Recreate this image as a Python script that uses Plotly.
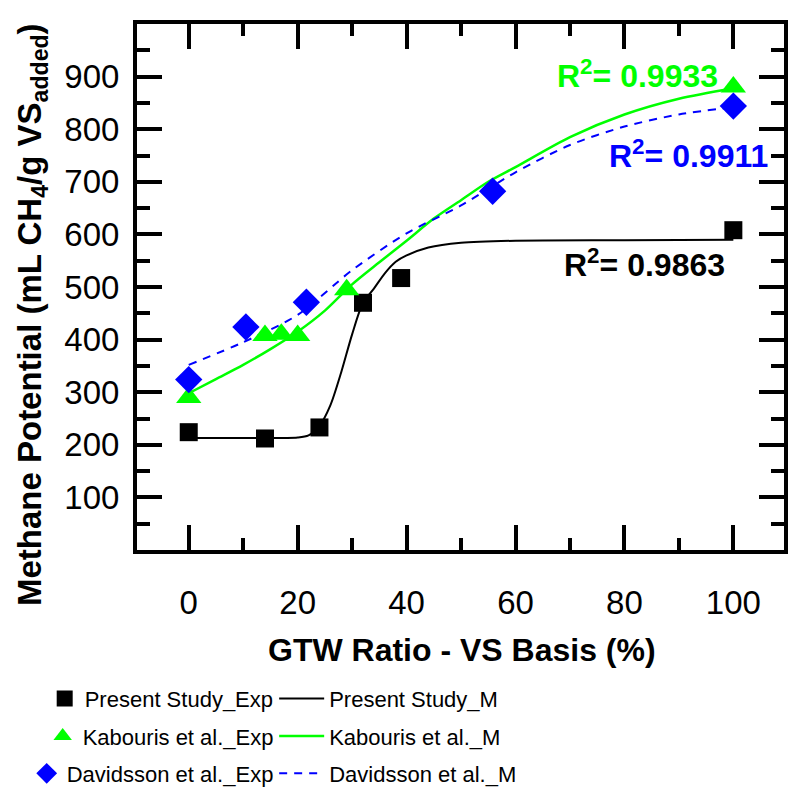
import plotly.graph_objects as go

# ---- data ----
present_x = [0, 14, 24, 32, 39, 100]
present_y = [224, 212, 233, 470, 517, 608]

kab_x = [0, 14, 17, 20, 29, 100]
kab_y = [290, 408, 410, 408, 495, 880]

dav_x = [0, 10.5, 21.6, 55.8, 100]
dav_y = [324, 424, 471, 682, 844]

present_m_x = [0, 10, 20, 22, 24, 26, 28, 30, 32, 34, 36, 38, 40, 44, 50, 60, 80, 100]
present_m_y = [213, 213, 214, 218, 236, 275, 338, 410, 470, 497, 526, 548, 560, 575, 584, 588, 589, 590]

kab_m_x = [0, 5, 10, 15, 20, 25, 30, 35, 40, 45, 50, 55, 60, 70, 80, 90, 100]
kab_m_y = [298, 325, 352, 382, 415, 455, 505, 547, 588, 630, 665, 700, 728, 785, 828, 858, 878]

dav_m_x = [0, 10, 20, 30, 40, 50, 60, 70, 80, 90, 100]
dav_m_y = [352, 395, 447, 532, 602, 655, 718, 770, 805, 828, 842]

x_ticks = [0, 20, 40, 60, 80, 100]
x_minor = [10, 30, 50, 70, 90]
y_ticks = [100, 200, 300, 400, 500, 600, 700, 800, 900]
y_minor = [50, 150, 250, 350, 450, 550, 650, 750, 850, 950]

r2_labels = ["R<sup>2</sup>= 0.9933", "R<sup>2</sup>= 0.9911", "R<sup>2</sup>= 0.9863"]
r2_x = [67.2, 76.8, 68.6]
r2_y = [905, 753, 545]
r2_colors = ["#00ff00", "#0000ff", "#000000"]

GREEN = "#00ff00"
BLUE = "#0000ff"
FONT = "Liberation Sans, Arial, sans-serif"

# legend rows (paper y of each row centre)
row_y = [-0.2827, -0.3539, -0.4250]
LEFT_COL_RIGHT = 0.219
RIGHT_COL_LEFT = 0.212
LEG_FONT = dict(family=FONT, size=22, color="black")

fig = go.Figure()

# model lines
fig.add_trace(go.Scatter(x=present_m_x, y=present_m_y, mode="lines", name="Present Study_M",
                         line=dict(color="black", width=2, shape="spline", smoothing=0.8),
                         legend="legend4", showlegend=True))
fig.add_trace(go.Scatter(x=kab_m_x, y=kab_m_y, mode="lines", name="Kabouris et al._M",
                         line=dict(color=GREEN, width=2.5, shape="spline", smoothing=0.8),
                         legend="legend5", showlegend=True))
fig.add_trace(go.Scatter(x=dav_m_x, y=dav_m_y, mode="lines", name="Davidsson et al._M",
                         line=dict(color=BLUE, width=2, dash="8px,7px", shape="spline", smoothing=0.8),
                         legend="legend6", showlegend=True))

# experimental points
fig.add_trace(go.Scatter(x=present_x, y=present_y, mode="markers", name="Present Study_Exp",
                         marker=dict(symbol="square", size=18, color="black"),
                         legend="legend", showlegend=True))
fig.add_trace(go.Scatter(x=kab_x, y=kab_y, mode="markers", name="Kabouris et al._Exp",
                         marker=dict(symbol="triangle-up", size=22, color=GREEN),
                         legend="legend2", showlegend=True))
fig.add_trace(go.Scatter(x=dav_x, y=dav_y, mode="markers", name="Davidsson et al._Exp",
                         marker=dict(symbol="diamond", size=21, color=BLUE),
                         legend="legend3", showlegend=True))

for t, xx, yy, c in zip(r2_labels, r2_x, r2_y, r2_colors):
    fig.add_annotation(x=xx, y=yy, xref="x", yref="y", text="<b>" + t + "</b>",
                       showarrow=False, xanchor="left", yanchor="middle",
                       font=dict(family=FONT, size=32, color=c))

# axis titles as annotations
fig.add_annotation(x=0.502, y=-0.190, xref="paper", yref="paper",
                   text="<b>GTW Ratio - VS Basis (%)</b>", showarrow=False,
                   xanchor="center", yanchor="middle",
                   font=dict(family=FONT, size=32, color="black"))
fig.add_annotation(x=-0.162, y=0.447, xref="paper", yref="paper",
                   text="<b>Methane Potential (mL CH<sub>4</sub>/g VS<sub>added</sub>)</b>",
                   showarrow=False, textangle=-90, xanchor="center", yanchor="middle",
                   font=dict(family=FONT, size=33, color="black"))

axis_common = dict(showline=True, linewidth=4, linecolor="black", mirror="allticks",
                   ticks="inside", ticklen=25, tickwidth=4, tickcolor="black",
                   showgrid=False, zeroline=False,
                   tickfont=dict(family=FONT, size=33, color="black"))

fig.update_xaxes(range=[-9.5, 109.3], tickmode="array", tickvals=x_ticks,
                 ticklabelstandoff=20,
                 minor=dict(tickmode="array", tickvals=x_minor, ticklen=12, tickwidth=4,
                            ticks="inside", tickcolor="black", showgrid=False),
                 **axis_common)
fig.update_yaxes(range=[0, 1000], tickmode="array", tickvals=y_ticks,
                 ticklabelstandoff=7,
                 minor=dict(tickmode="array", tickvals=y_minor, ticklen=13, tickwidth=4,
                            ticks="inside", tickcolor="black", showgrid=False),
                 **axis_common)

legends = {}
for i, name in enumerate(["legend", "legend2", "legend3"]):
    legends[name] = dict(x=LEFT_COL_RIGHT, y=row_y[i], xanchor="right", yanchor="middle",
                         font=LEG_FONT, bgcolor="rgba(0,0,0,0)", itemwidth=30, visible=True)
for i, name in enumerate(["legend4", "legend5", "legend6"]):
    legends[name] = dict(x=RIGHT_COL_LEFT, y=row_y[i], xanchor="left", yanchor="middle",
                         font=LEG_FONT, bgcolor="rgba(0,0,0,0)", itemwidth=45, visible=True)

fig.update_layout(
    width=788, height=795,
    margin=dict(l=137, r=0, t=24, b=244),
    paper_bgcolor="white", plot_bgcolor="white",
    showlegend=True,
    **legends,
)

fig.write_html("out.html")
